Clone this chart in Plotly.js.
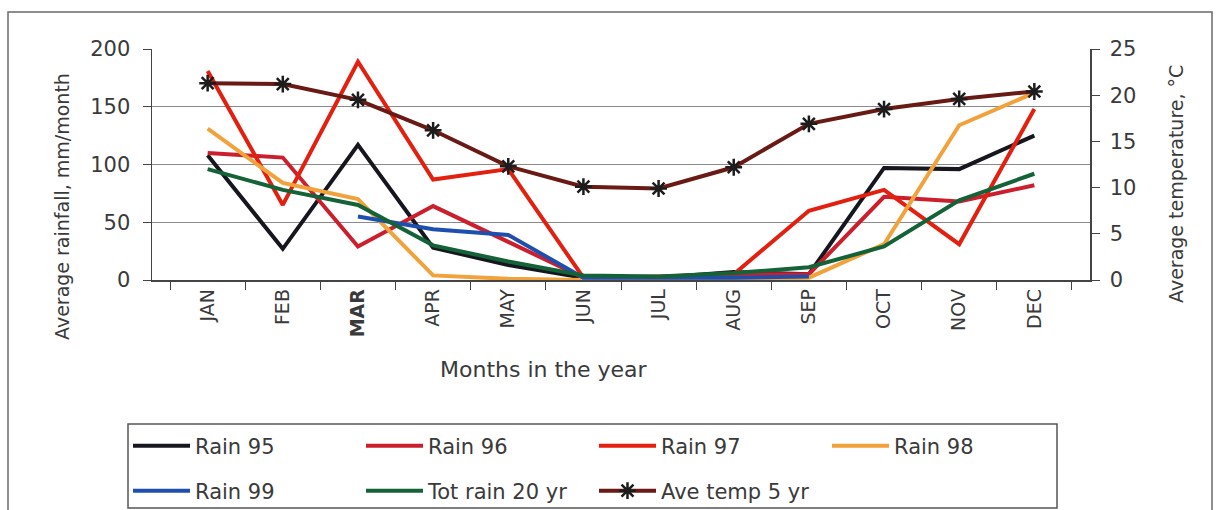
<!DOCTYPE html>
<html>
<head>
<meta charset="utf-8">
<script src="https://cdn.plot.ly/plotly-3.0.1.min.js"></script>
<style>
  html, body { margin: 0; padding: 0; background: #ffffff; }
  #chart { width: 1217px; height: 510px; }
</style>
</head>
<body>
<div id="chart"></div>
<script>
// ---- data ----
const months = ['JAN','FEB','MAR','APR','MAY','JUN','JUL','AUG','SEP','OCT','NOV','DEC'];
const monthLabels = ['JAN','FEB','<b>MAR</b>','APR','MAY','JUN','JUL','AUG','SEP','OCT','NOV','DEC'];
const rain95 = [108, 27, 117, 28, 13, 2, 2, 7, 5, 97, 96, 125];
const rain96 = [110, 106, 29, 64, 33, 2, 2, 5, 5, 72, 68, 82];
const rain97 = [181, 65, 189, 87, 96, 2, 3, 5, 60, 78, 31, 148];
const rain98 = [131, 84, 70, 4, 1, 0, 0, 0, 2, 31, 134, 162];
const rain99 = [null, null, 55, 44, 39, 2, 2, 2, 3, null, null, null];
const totRain20 = [96, 78, 65, 30, 16, 4, 3, 6, 11, 29, 69, 92];
const aveTemp5 = [21.3, 21.2, 19.5, 16.2, 12.3, 10.1, 9.9, 12.2, 16.9, 18.5, 19.6, 20.4];
const yTicks = [0, 50, 100, 150, 200];
const y2Ticks = [0, 5, 10, 15, 20, 25];

const FONT = 'DejaVu Sans, Liberation Sans, Arial, sans-serif';
const TXT = '#3a3a3a';

function lineTrace(name, y, color, legend) {
  return {
    type: 'scatter', mode: 'lines', name: name, x: months, y: y,
    line: { color: color, width: 4 }, legend: legend, connectgaps: false
  };
}

const traces = [
  lineTrace('Rain 95', rain95, '#16161f', 'legend'),
  lineTrace('Rain 96', rain96, '#cc1f2e', 'legend'),
  lineTrace('Rain 97', rain97, '#e3200f', 'legend'),
  lineTrace('Rain 98', rain98, '#f2a23a', 'legend'),
  lineTrace('Rain 99', rain99, '#1f4fae', 'legend2'),
  lineTrace('Tot rain 20 yr', totRain20, '#146238', 'legend2'),
  {
    type: 'scatter', mode: 'lines+markers', name: 'Ave temp 5 yr', x: months, y: aveTemp5,
    yaxis: 'y2', legend: 'legend2',
    line: { color: '#6a1a14', width: 4 },
    marker: { symbol: 'asterisk-open', size: 14, color: '#1c1c1c', line: { color: '#1c1c1c', width: 2.5 } }
  }
];

// pixel helpers for the plot area
const L = 152, R = 1090, T = 49, B = 280;
const px = p => (p - L) / (R - L);
const py = p => (B - p) / (B - T);

const legendCommon = {
  orientation: 'h', xanchor: 'left', yanchor: 'middle',
  font: { family: FONT, size: 21, color: TXT },
  bgcolor: 'rgba(0,0,0,0)', borderwidth: 0,
  entrywidth: 161, entrywidthmode: 'pixels', itemwidth: 57, traceorder: 'normal'
};

const layout = {
  width: 1217, height: 510,
  margin: { l: L, r: 1217 - R, t: T, b: 510 - B, autoexpand: false },
  paper_bgcolor: '#ffffff', plot_bgcolor: '#ffffff',
  font: { family: FONT, size: 20, color: TXT },
  showlegend: true,
  legend: Object.assign({}, legendCommon, { x: px(128), y: py(446) }),
  legend2: Object.assign({}, legendCommon, { x: px(128), y: py(491) }),
  xaxis: {
    type: 'category', tickmode: 'array', tickvals: months, ticktext: monthLabels,
    tickangle: -90, tickson: 'boundaries', ticks: 'outside', ticklen: 8, tickcolor: '#444',
    showline: true, linecolor: '#444', linewidth: 1.5, showgrid: false, automargin: false,
    tickfont: { family: FONT, size: 19, color: TXT }
  },
  yaxis: {
    range: [0, 200], tickmode: 'array', tickvals: yTicks, automargin: false,
    showgrid: true, gridcolor: '#8a8a8a', gridwidth: 1.2, zeroline: false,
    showline: true, linecolor: '#444', linewidth: 1.5,
    ticks: 'outside', ticklen: 8, tickcolor: '#444', ticklabelstandoff: 8,
    tickfont: { family: FONT, size: 21, color: TXT }
  },
  yaxis2: {
    overlaying: 'y', side: 'right', range: [0, 25], tickmode: 'array', tickvals: y2Ticks, automargin: false,
    showgrid: false, zeroline: false, showline: true, linecolor: '#444', linewidth: 1.5,
    ticks: 'outside', ticklen: 8, tickcolor: '#444', ticklabelstandoff: 6,
    tickfont: { family: FONT, size: 21, color: TXT }
  },
  annotations: [
    { text: 'Months in the year', xref: 'paper', yref: 'paper', x: px(544), y: py(369),
      showarrow: false, xanchor: 'center', yanchor: 'middle',
      font: { family: FONT, size: 22, color: TXT } },
    { text: 'Average rainfall, mm/month', xref: 'paper', yref: 'paper', x: px(62), y: py(207),
      showarrow: false, xanchor: 'center', yanchor: 'middle', textangle: -90,
      font: { family: FONT, size: 19, color: TXT } },
    { text: 'Average temperature, °C', xref: 'paper', yref: 'paper', x: px(1176), y: py(184),
      showarrow: false, xanchor: 'center', yanchor: 'middle', textangle: -90,
      font: { family: FONT, size: 19, color: TXT } }
  ],
  shapes: [
    // outer chart frame
    { type: 'rect', xref: 'paper', yref: 'paper', x0: px(8), x1: px(1212), y0: py(520), y1: py(12),
      line: { color: '#6a6a6a', width: 1.5 }, layer: 'below' },
    // legend box
    { type: 'rect', xref: 'paper', yref: 'paper', x0: px(128), x1: px(1057), y0: py(508), y1: py(424),
      line: { color: '#555', width: 1.5 }, layer: 'below' }
  ]
};

Plotly.newPlot('chart', traces, layout, { displayModeBar: false, staticPlot: true });
</script>
</body>
</html>
